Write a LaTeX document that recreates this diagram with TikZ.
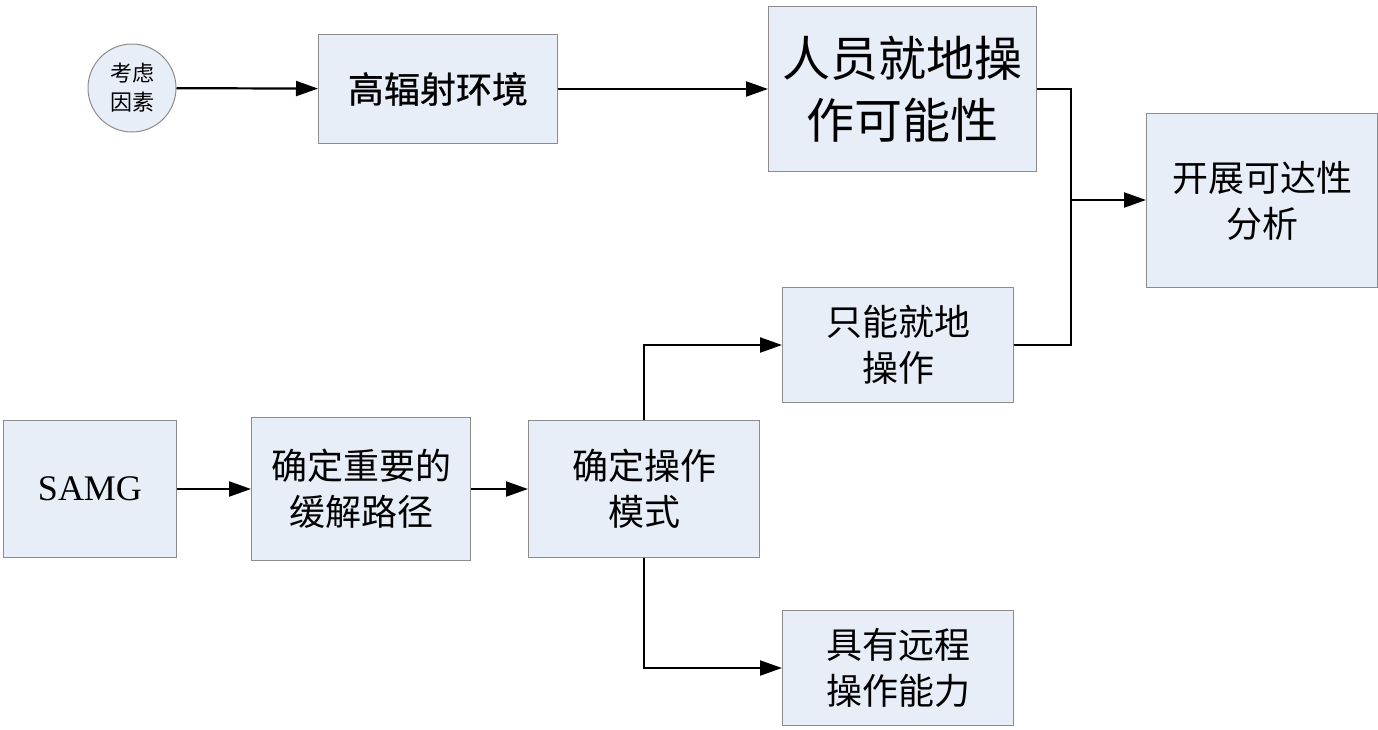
\documentclass[tikz,border=0pt]{standalone}
\usepackage{fontspec}
\setmainfont{Liberation Serif}
\newfontfamily\cjk{Noto Sans CJK SC}
\newfontfamily\cjkmed[FakeBold=0.8]{Noto Sans CJK SC}
\usetikzlibrary{arrows.meta}
\definecolor{boxfill}{HTML}{E8EEF8}
\definecolor{boxline}{HTML}{8C8C8C}
\tikzset{
  box/.style={draw=boxline, fill=boxfill, line width=1pt, anchor=north west, inner sep=0pt, align=center},
  flow/.style={line width=2.2pt, -{Triangle[length=22pt,width=15pt]}},
  link/.style={line width=2.2pt},
  big/.style={font=\cjk\fontsize{36}{46}\selectfont},
}
\begin{document}
\begin{tikzpicture}[x=1pt,y=-1pt]
\useasboundingbox (0,0) rectangle (1378,729);
% boxes
\node[draw=boxline, fill=boxfill, line width=1pt, circle, minimum size=88pt, inner sep=0pt, align=center,
  font=\cjk\fontsize{22}{29}\selectfont] (c) at (132,88) {考虑\\因素};
\node[box, minimum width=239pt, minimum height=109pt, font=\cjkmed\fontsize{36}{46}\selectfont] (hr) at (318,34) {高辐射环境};
\node[box, minimum width=268pt, minimum height=165pt, font=\cjk\fontsize{48}{62}\selectfont] (ry) at (768,6) {人员就地操\\作可能性};
\node[box, minimum width=231pt, minimum height=174pt, big] (kz) at (1146,113) {开展可达性\\分析};
\node[box, minimum width=231pt, minimum height=115pt, big] (zn) at (782,287) {只能就地\\操作};
\node[box, minimum width=173pt, minimum height=137pt, font=\fontsize{36}{44}\selectfont] (samg) at (3,420) {SAMG};
\node[box, minimum width=219pt, minimum height=143pt, big] (qd) at (251,417) {确定重要的\\缓解路径};
\node[box, minimum width=231pt, minimum height=137pt, big] (ms) at (528,420) {确定操作\\模式};
\node[box, minimum width=231pt, minimum height=115pt, big] (yc) at (782,610) {具有远程\\操作能力};
% junction
\coordinate (j) at (1071,200);
% connectors
\draw[flow] (c) -- (hr);
\draw[flow] (hr) -- (ry.west |- hr);
\draw[link] (ry.east |- hr) -| (j);
\draw[link] (zn.east) -| (j);
\draw[flow] (j) -- (kz.west |- j);
\draw[flow] (samg.east |- 0,489) -- (qd.west |- 0,489);
\draw[flow] (qd.east |- 0,489) -- (ms.west |- 0,489);
\draw[flow] (ms.north -| 644,0) |- (zn.west);
\draw[flow] (ms.south -| 644,0) |- (yc.west);
\end{tikzpicture}
\end{document}
